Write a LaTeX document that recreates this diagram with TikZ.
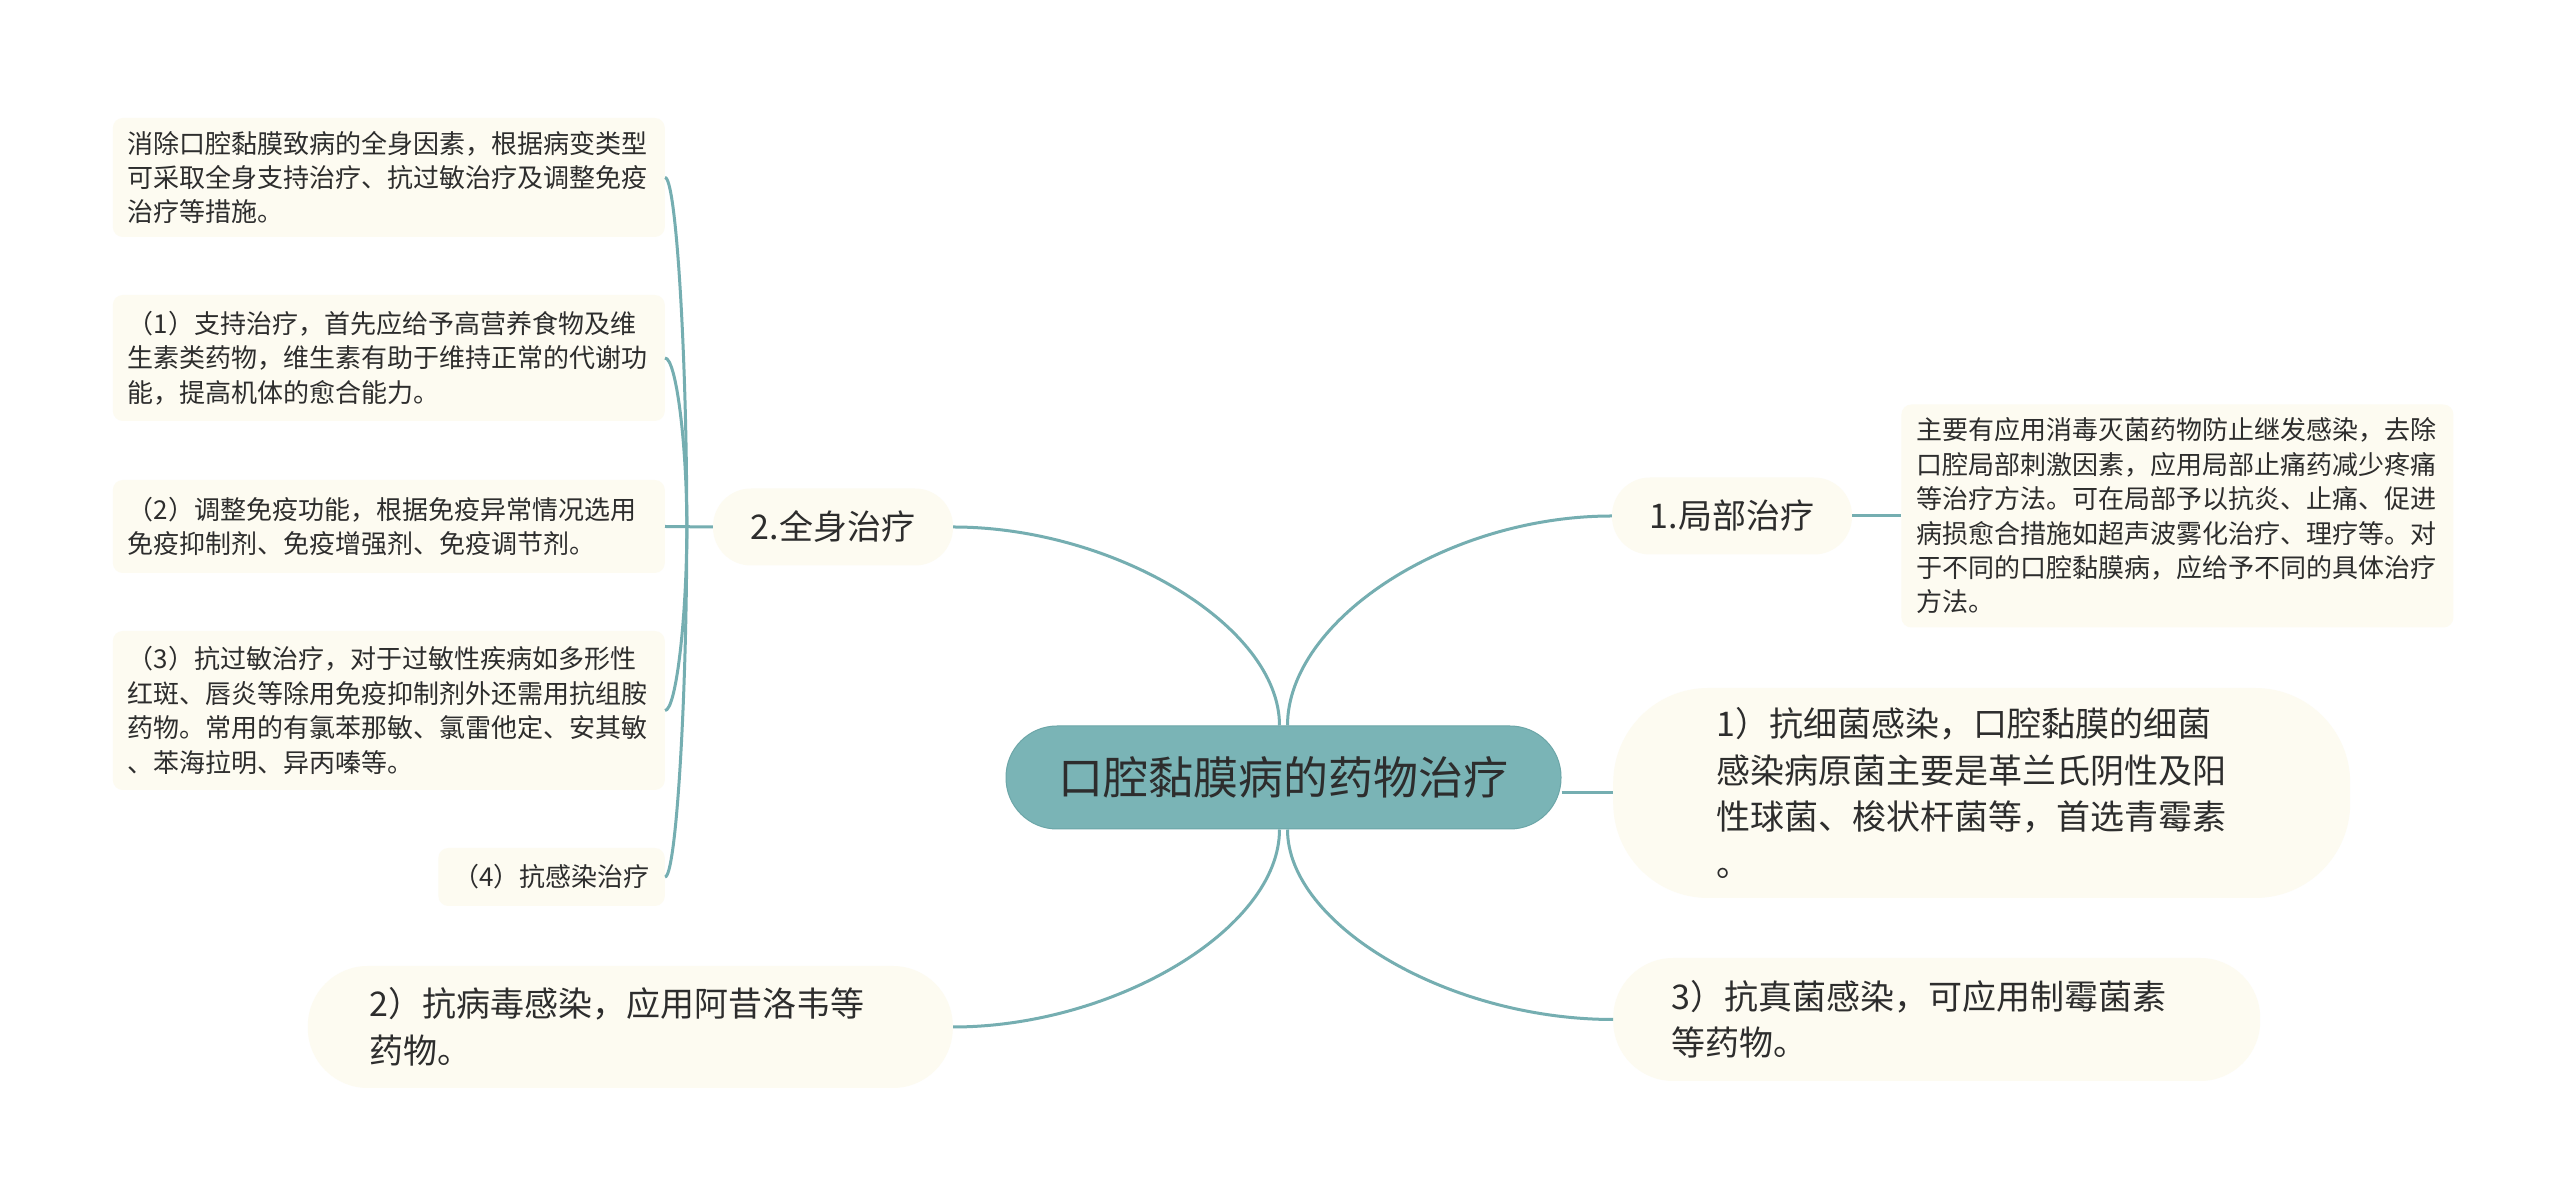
\documentclass[tikz,border=0pt]{standalone}
\usepackage{fontspec}
\setmainfont{Noto Sans CJK SC}
\usepackage{tikz}
\usetikzlibrary{shapes,positioning}
\definecolor{rootfill}{RGB}{122,180,182}
\definecolor{rootline}{RGB}{108,166,168}
\definecolor{linkcol}{RGB}{117,174,177}
\definecolor{leaf}{RGB}{253,251,241}
\definecolor{textgray}{RGB}{45,45,45}
\tikzstyle{root} = [rectangle, draw=rootline, line width=1pt, fill=rootfill,
    rounded corners=51pt, minimum width=555pt, minimum height=103pt,
    text=textgray, font=\fontsize{45}{54}\selectfont]
\tikzstyle{branch} = [rectangle, fill=leaf, rounded corners=38pt,
    minimum width=240pt, minimum height=77pt, text=textgray,
    font=\fontsize{34}{46.5}\selectfont]
\tikzstyle{pill} = [rectangle, fill=leaf, align=left, text=textgray,
    font=\fontsize{34}{46.5}\selectfont]
\tikzstyle{note} = [rectangle, fill=leaf, rounded corners=10pt, align=left,
    text width=522pt, inner xsep=15pt, text=textgray,
    font=\fontsize{26}{34.4}\selectfont]
\tikzstyle{link} = [draw=linkcol, line width=3pt]

\begin{document}
\begin{tikzpicture}[x=1pt, y=1pt]
    \fill[white] (0,0) rectangle (2560,1199);
    \useasboundingbox (0,0) rectangle (2560,1199);

    % Place nodes
    % Root
    \node [root] (root) at (1283.5,421.5) {口腔黏膜病的药物治疗};

    % Main branches
    \node [branch] (whole) at (833,672) {2.全身治疗};
    \node [branch] (local) at (1732,683) {1.局部治疗};
    \node [pill, text width=531pt, inner xsep=103pt, minimum height=210pt,
        rounded corners=95pt, anchor=west] (bact) at (1613,406)
        {1）抗细菌感染，口腔黏膜的细菌\\感染病原菌主要是革兰氏阴性及阳\\性球菌、梭状杆菌等，首选青霉素\\。};
    \node [pill, text width=531pt, inner xsep=58pt, minimum height=123pt,
        rounded corners=60pt, anchor=west] (fungus) at (1613,179.5)
        {3）抗真菌感染，可应用制霉菌素\\等药物。};
    \node [pill, text width=521pt, inner xsep=62pt, minimum height=122pt,
        rounded corners=60pt, anchor=east] (virus) at (953,172)
        {2）抗病毒感染，应用阿昔洛韦等\\药物。};

    % Notes
    \node [note, minimum height=223pt, right=49pt of local] (info)
        {主要有应用消毒灭菌药物防止继发感染，去除\\口腔局部刺激因素，应用局部止痛药减少疼痛\\等治疗方法。可在局部予以抗炎、止痛、促进\\病损愈合措施如超声波雾化治疗、理疗等。对\\于不同的口腔黏膜病，应给予不同的具体治疗\\方法。};
    \node [note, minimum height=119pt, anchor=east] (noteA) at (665,1021.5)
        {消除口腔黏膜致病的全身因素，根据病变类型\\可采取全身支持治疗、抗过敏治疗及调整免疫\\治疗等措施。};
    \node [note, minimum height=126pt, anchor=east] (noteB) at (665,841)
        {（1）支持治疗，首先应给予高营养食物及维\\生素类药物，维生素有助于维持正常的代谢功\\能，提高机体的愈合能力。};
    \node [note, minimum height=93pt, anchor=east] (noteC) at (665,672.5)
        {（2）调整免疫功能，根据免疫异常情况选用\\免疫抑制剂、免疫增强剂、免疫调节剂。};
    \node [note, minimum height=159pt, anchor=east] (noteD) at (665,488.5)
        {（3）抗过敏治疗，对于过敏性疾病如多形性\\红斑、唇炎等除用免疫抑制剂外还需用抗组胺\\药物。常用的有氯苯那敏、氯雷他定、安其敏\\、苯海拉明、异丙嗪等。};
    \node [note, text width=, minimum height=58pt, anchor=east] (noteE) at (665,322)
        {（4）抗感染治疗};

    % Draw edges
    % Root to branches
    \draw [link] ([xshift=-4pt]root.north) .. controls +(0,100) and +(160,0) .. (whole.east);
    \draw [link] ([xshift=4pt]root.north) .. controls +(0,105) and +(-165,0) .. (local.west);
    \draw [link] (root.east |- bact.west) -- (bact.west);
    \draw [link] ([xshift=-4pt]root.south) .. controls +(0,-100) and +(160,0) .. (virus.east);
    \draw [link] ([xshift=4pt]root.south) .. controls +(0,-95) and +(-165,0) .. (fungus.west);

    % Branches to notes
    \draw [link] (local.east) -- (info.west);
    \coordinate (hub) at ([xshift=-26pt]whole.west);
    \draw [link] (whole.west) -- (noteC.east);
    \draw [link] (hub) .. controls +(0,175) and +(11,0) .. (noteA.east);
    \draw [link] (hub) .. controls +(0,85) and +(11,0) .. (noteB.east);
    \draw [link] (hub) .. controls +(0,-92) and +(11,0) .. (noteD.east);
    \draw [link] (hub) .. controls +(0,-175) and +(11,0) .. (noteE.east);

\end{tikzpicture}
\end{document}
